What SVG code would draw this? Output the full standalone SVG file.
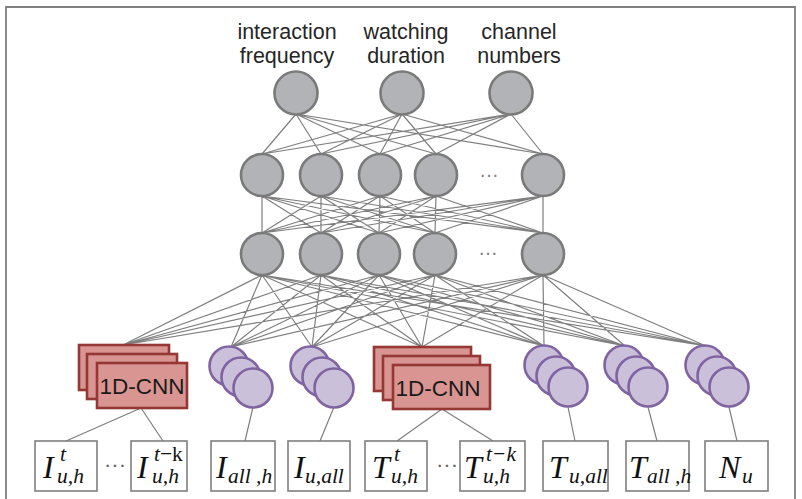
<svg xmlns="http://www.w3.org/2000/svg" width="802" height="499" viewBox="0 0 802 499">
<style>
.frame{fill:none;stroke:#7f7f7f;stroke-width:1.8}
.conn{fill:none;stroke:#7f7f7f;stroke-width:1.2}
.gn{fill:#b2b3b7;stroke:#7a7a7a;stroke-width:2.6}
.pn{fill:#cbc0da;stroke:#8064a2;stroke-width:2.6}
.cnn{fill:#d99591;stroke:#953735;stroke-width:2.6}
.box{fill:#fff;stroke:#7f7f7f;stroke-width:1.6}
.lbl{font-family:"Liberation Sans",Arial,sans-serif;font-size:21.5px;fill:#262626;text-anchor:middle}
.cnnt{font-family:"Liberation Sans",Arial,sans-serif;font-size:22.5px;fill:#1a1a1a;text-anchor:middle}
.dots{font-family:"Liberation Sans",Arial,sans-serif;font-size:20px;fill:#7f7f7f}
.m{font-family:"Liberation Serif","Times New Roman",serif;font-style:italic;font-size:32px;fill:#111}
.s{font-size:21.5px}
.up{font-style:normal}
.bd{font-family:"Liberation Serif",serif;font-size:22px;fill:#666}
</style>
<path class="frame" d="M6 499V7H795V499"/>
<g id="connectors">
<path class="conn" d="M296 114L262 154M296 114L321 154M296 114L380 154M296 114L436 154M296 114L543 154M402 114L262 154M402 114L321 154M402 114L380 154M402 114L436 154M402 114L543 154M511 114L262 154M511 114L321 154M511 114L380 154M511 114L436 154M511 114L543 154"/>
<path class="conn" d="M262 196L262 233M262 196L321 233M262 196L379 233M262 196L435 233M262 196L543 233M321 196L262 233M321 196L321 233M321 196L379 233M321 196L435 233M321 196L543 233M380 196L262 233M380 196L321 233M380 196L379 233M380 196L435 233M380 196L543 233M436 196L262 233M436 196L321 233M436 196L379 233M436 196L435 233M436 196L543 233M543 196L262 233M543 196L321 233M543 196L379 233M543 196L435 233M543 196L543 233"/>
<path class="conn" d="M262 275L123 345M262 275L231 347M262 275L312 347M262 275L422 347M262 275L544 346M262 275L625 346M262 275L706 346M321 275L123 345M321 275L231 347M321 275L312 347M321 275L422 347M321 275L544 346M321 275L625 346M321 275L706 346M379 275L123 345M379 275L231 347M379 275L312 347M379 275L422 347M379 275L544 346M379 275L625 346M379 275L706 346M435 275L123 345M435 275L231 347M435 275L312 347M435 275L422 347M435 275L544 346M435 275L625 346M435 275L706 346M543 275L123 345M543 275L231 347M543 275L312 347M543 275L422 347M543 275L544 346M543 275L625 346M543 275L706 346"/>
<path class="conn" d="M141 408L66 441M141 408L163 441M253 407L245 441M334 407L320 441M442 409L397 441M442 409L493 441M568 407L575 441M648 407L657 441M729 407L737 441"/>
</g>
<g id="out-interaction"><text class="lbl" x="287" y="39">interaction</text><text class="lbl" x="287" y="63">frequency</text><circle class="gn" cx="296" cy="93" r="21.5"/></g>
<g id="out-watching"><text class="lbl" x="406" y="39">watching</text><text class="lbl" x="406" y="63">duration</text><circle class="gn" cx="402" cy="93" r="21.5"/></g>
<g id="out-channel"><text class="lbl" x="519" y="39">channel</text><text class="lbl" x="519" y="63">numbers</text><circle class="gn" cx="511" cy="93" r="21.5"/></g>
<g id="h1-1"><circle class="gn" cx="262" cy="175" r="21"/></g>
<g id="h1-2"><circle class="gn" cx="321" cy="175" r="21"/></g>
<g id="h1-3"><circle class="gn" cx="380" cy="175" r="21"/></g>
<g id="h1-4"><circle class="gn" cx="436" cy="175" r="21"/></g>
<g id="h1-dots"><text class="dots" x="479" y="177">…</text></g>
<g id="h1-5"><circle class="gn" cx="543" cy="175" r="21"/></g>
<g id="h2-1"><circle class="gn" cx="262" cy="254" r="21"/></g>
<g id="h2-2"><circle class="gn" cx="321" cy="254" r="21"/></g>
<g id="h2-3"><circle class="gn" cx="379" cy="254" r="21"/></g>
<g id="h2-4"><circle class="gn" cx="435" cy="254" r="21"/></g>
<g id="h2-dots"><text class="dots" x="478" y="255">…</text></g>
<g id="h2-5"><circle class="gn" cx="543" cy="254" r="21"/></g>
<g id="cnn1"><rect class="cnn" x="79" y="345" width="90" height="45"/><rect class="cnn" x="87" y="354" width="90" height="45"/><rect class="cnn" x="97" y="363" width="90" height="45"/><text class="cnnt" x="142" y="394">1D-CNN</text></g>
<g id="p1"><circle class="pn" cx="229" cy="366" r="19.5"/><circle class="pn" cx="241" cy="377" r="19.5"/><circle class="pn" cx="253" cy="388" r="19.5"/></g>
<g id="p2"><circle class="pn" cx="310" cy="366" r="19.5"/><circle class="pn" cx="322" cy="377" r="19.5"/><circle class="pn" cx="334" cy="388" r="19.5"/></g>
<g id="cnn2"><rect class="cnn" x="374" y="347" width="97" height="44"/><rect class="cnn" x="383" y="356" width="97" height="44"/><rect class="cnn" x="393" y="365" width="97" height="44"/><text class="cnnt" x="438" y="396">1D-CNN</text></g>
<g id="p3"><circle class="pn" cx="544" cy="365" r="19.5"/><circle class="pn" cx="556" cy="376" r="19.5"/><circle class="pn" cx="568" cy="387" r="19.5"/></g>
<g id="p4"><circle class="pn" cx="624" cy="365" r="19.5"/><circle class="pn" cx="636" cy="376" r="19.5"/><circle class="pn" cx="648" cy="387" r="19.5"/></g>
<g id="p5"><circle class="pn" cx="705" cy="365" r="19.5"/><circle class="pn" cx="717" cy="376" r="19.5"/><circle class="pn" cx="729" cy="387" r="19.5"/></g>
<g id="in-1"><rect class="box" x="35" y="441" width="62" height="50"/><text class="m" x="43" y="478">I</text><text class="m s" x="60" y="461">t</text><text class="m s" x="57" y="483">u,h</text></g>
<g id="in-dots1"><text class="bd" x="104" y="473">···</text></g>
<g id="in-2"><rect class="box" x="131" y="441" width="56" height="50"/><text class="m" x="137" y="478">I</text><text class="m s" x="154" y="461">t<tspan class="up">−k</tspan></text><text class="m s" x="152" y="483">u,h</text></g>
<g id="in-3"><rect class="box" x="211" y="441" width="64" height="50"/><text class="m" x="216" y="478">I</text><text class="m s" x="228" y="483">all ,h</text></g>
<g id="in-4"><rect class="box" x="288" y="441" width="62" height="50"/><text class="m" x="294" y="478">I</text><text class="m s" x="305" y="483">u,all</text></g>
<g id="in-5"><rect class="box" x="365" y="441" width="62" height="50"/><text class="m" x="372" y="478">T</text><text class="m s" x="394" y="461">t</text><text class="m s" x="391" y="483">u,h</text></g>
<g id="in-dots2"><text class="bd" x="436" y="473">···</text></g>
<g id="in-6"><rect class="box" x="460" y="441" width="65" height="50"/><text class="m" x="464" y="478">T</text><text class="m s" x="486" y="461">t−k</text><text class="m s" x="483" y="483">u,h</text></g>
<g id="in-7"><rect class="box" x="543" y="441" width="65" height="50"/><text class="m" x="549" y="478">T</text><text class="m s" x="569" y="483">u,all</text></g>
<g id="in-8"><rect class="box" x="626" y="441" width="63" height="50"/><text class="m" x="629" y="478">T</text><text class="m s" x="647" y="483">all ,h</text></g>
<g id="in-9"><rect class="box" x="705" y="441" width="63" height="50"/><text class="m" x="719" y="478">N</text><text class="m s" x="742" y="483">u</text></g>
</svg>
